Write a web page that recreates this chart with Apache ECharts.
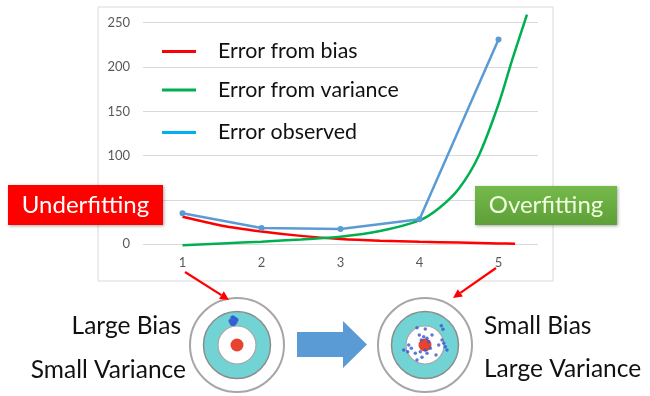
<!DOCTYPE html>
<html><head><meta charset="utf-8">
<script src="https://cdn.jsdelivr.net/npm/echarts@6/dist/echarts.min.js"></script>
<style>html,body{margin:0;padding:0;background:#fff}#c{width:650px;height:396px}</style>
</head><body><div id="c"></div>
<script>
// ---- data ----
const categories = ['1', '2', '3', '4', '5'];
const yTicks = [0, 50, 100, 150, 200, 250];
const observed = [35, 18.4, 17.3, 28.2, 231];
const biasCurve = [[1, 31], [1.5, 21], [2, 14.5], [2.5, 9.5], [3, 6], [3.5, 4], [4, 2.8], [4.5, 2], [5, 1], [5.21, 0.5]];
const varianceCurve = [[1, -1], [1.5, 1], [2, 3], [2.5, 5.5], [3, 8.6], [3.5, 15], [4, 27], [4.25, 41], [4.5, 63], [4.75, 100], [5, 158], [5.18, 210], [5.36, 259]];
const legendNames = ['Error from bias', 'Error from variance', 'Error observed'];
const leftHits = [[-3.5, 24.5], [-6, 25], [-1, 26], [-4, 28], [-2, 22], [-6, 22], [-1, 23], [-5, 27.5], [-3, 20.5], [0, 25], [-7, 24], [-4, 23], [-2.5, 27], [-5, 20.5]];
const rightHits = [[-8, 17.3], [0.3, 16], [16.3, 19.3], [18, 15.7], [-5.7, 10], [-1.3, 8.3], [-3.7, 5], [2, 6.7], [3.7, 3.3], [5.3, -3.3], [0.3, -5], [-4.7, -6.7], [-9.7, -8.3], [-16.3, 0], [-21.3, -5], [-17.3, -6.7], [-13.7, -3.3], [-8, -15], [-3, -12.3], [2, -8.3], [11, -10], [18.7, 1.7], [20.3, -1.7], [22, -5], [17, 5], [7, 10], [13.7, 0]];
const textLeft = ['Large Bias', 'Small Variance'];
const textRight = ['Small Bias', 'Large Variance'];

const FONT = 'Lato';
const chart = echarts.init(document.getElementById('c'), null, {renderer: 'canvas'});

function target(cx, cy) {
  return [
    {type: 'circle', shape: {cx: cx, cy: cy, r: 47}, style: {fill: '#fff', stroke: '#A6A6A6', lineWidth: 2}, z: 1},
    {type: 'circle', shape: {cx: cx, cy: cy, r: 33.5}, style: {fill: '#72D3D5', stroke: '#8C8C8C', lineWidth: 1.5}, z: 1},
    {type: 'circle', shape: {cx: cx, cy: cy, r: 19}, style: {fill: '#fff', stroke: '#A6A6A6', lineWidth: 1.2}, z: 1},
    {type: 'circle', shape: {cx: cx, cy: cy, r: 6.5}, style: {fill: '#E8432F'}, z: 1}
  ];
}
function redArrow(x1, y1, x2, y2) {
  const a = Math.atan2(y2 - y1, x2 - x1), L = 9, W = 4.5;
  const bx = x2 - L * Math.cos(a), by = y2 - L * Math.sin(a);
  return [
    {type: 'line', shape: {x1: x1, y1: y1, x2: bx, y2: by}, style: {stroke: '#FF0000', lineWidth: 2.2}, z: 5},
    {type: 'polygon', shape: {points: [[x2, y2], [bx - W * Math.sin(a), by + W * Math.cos(a)], [bx + W * Math.sin(a), by - W * Math.cos(a)]]}, style: {fill: '#FF0000'}, z: 5}
  ];
}

const graphics = [
  {type: 'rect', shape: {x: 98, y: 7, width: 455, height: 274}, style: {fill: '#fff', stroke: '#D9D9D9', lineWidth: 1}, z: -10, silent: true},
  // Underfitting
  {type: 'rect', shape: {x: 8, y: 185, width: 155, height: 40}, style: {fill: '#FF0000', shadowBlur: 3, shadowColor: 'rgba(0,0,0,0.35)', shadowOffsetX: 1, shadowOffsetY: 1}, z: 20},
  {type: 'text', x: 85.5, y: 205, style: {text: 'Underfitting', fill: '#fff', font: '24px ' + FONT, textAlign: 'center', textVerticalAlign: 'middle'}, z: 21},
  // Overfitting
  {type: 'rect', shape: {x: 475, y: 186, width: 142, height: 39}, style: {fill: new echarts.graphic.LinearGradient(0, 0, 0, 1, [{offset: 0, color: '#75B94B'}, {offset: 1, color: '#5E9F38'}]), shadowBlur: 3, shadowColor: 'rgba(0,0,0,0.35)', shadowOffsetX: 1, shadowOffsetY: 1}, z: 20},
  {type: 'text', x: 546, y: 205.5, style: {text: 'Overfitting', fill: '#EEFFDD', font: '24px ' + FONT, textAlign: 'center', textVerticalAlign: 'middle'}, z: 21},
  // Blue block arrow
  {type: 'polygon', shape: {points: [[297, 332], [343, 332], [343, 321], [367, 344.5], [343, 368], [343, 357], [297, 357]]}, style: {fill: '#5B9BD5'}, z: 5},
  // texts
  {type: 'text', x: 181, y: 326, style: {text: textLeft[0], fill: '#111', font: '24.5px ' + FONT, textAlign: 'right', textVerticalAlign: 'middle'}},
  {type: 'text', x: 186, y: 370, style: {text: textLeft[1], fill: '#111', font: '24.5px ' + FONT, textAlign: 'right', textVerticalAlign: 'middle'}},
  {type: 'text', x: 484, y: 326, style: {text: textRight[0], fill: '#111', font: '24.5px ' + FONT, textAlign: 'left', textVerticalAlign: 'middle'}},
  {type: 'text', x: 484, y: 369, style: {text: textRight[1], fill: '#111', font: '24.5px ' + FONT, textAlign: 'left', textVerticalAlign: 'middle'}}
].concat(target(237, 345), target(425, 345), redArrow(185, 272, 229, 300), redArrow(496, 268, 453, 298));

const legendColors = ['#FF0000', '#00B050', '#00B0F0'];
const legendTops = [38.5, 77, 119.5];
const legends = legendNames.map(function (n, i) {
  return {
    orient: 'vertical', left: 162, top: legendTops[i], padding: 0,
    itemWidth: 34, itemHeight: 3,
    textStyle: {fontSize: 21.4, color: '#111', fontFamily: FONT, lineHeight: 26, padding: [0, 0, 0, 17]},
    data: [{name: n, icon: 'rect', itemStyle: {color: legendColors[i]}}]
  };
});

chart.setOption({
  animation: false,
  textStyle: {fontFamily: FONT},
  graphic: graphics,
  legend: legends,
  grid: [
    {left: 143, right: 112, top: 22.7, bottom: 151.7},
    {left: 187, top: 295, width: 100, height: 100},
    {left: 375, top: 295, width: 100, height: 100}
  ],
  xAxis: [
    {type: 'category', data: categories, gridIndex: 0, boundaryGap: true,
     axisLine: {show: false}, axisTick: {show: false},
     axisLabel: {color: '#595959', fontSize: 13, margin: 12}},
    {type: 'value', gridIndex: 0, min: 0.5, max: 5.5, show: false},
    {type: 'value', gridIndex: 1, min: -50, max: 50, show: false},
    {type: 'value', gridIndex: 2, min: -50, max: 50, show: false}
  ],
  yAxis: [
    {type: 'value', gridIndex: 0, min: yTicks[0], max: yTicks[yTicks.length - 1], interval: 50,
     axisLine: {show: false}, axisTick: {show: false},
     axisLabel: {color: '#595959', fontSize: 13, margin: 13},
     splitLine: {lineStyle: {color: '#D9D9D9', width: 1}}},
    {type: 'value', gridIndex: 1, min: -50, max: 50, show: false},
    {type: 'value', gridIndex: 2, min: -50, max: 50, show: false}
  ],
  series: [
    {name: legendNames[0], type: 'line', xAxisIndex: 1, yAxisIndex: 0, data: biasCurve, smooth: 0.3,
     showSymbol: false, clip: false, lineStyle: {color: '#FF0000', width: 2.5}, itemStyle: {color: '#FF0000'}},
    {name: legendNames[1], type: 'line', xAxisIndex: 1, yAxisIndex: 0, data: varianceCurve, smooth: 0.3,
     showSymbol: false, clip: false, lineStyle: {color: '#00B050', width: 2.5}, itemStyle: {color: '#00B050'}},
    {name: legendNames[2], type: 'line', xAxisIndex: 0, yAxisIndex: 0, data: observed,
     symbol: 'circle', symbolSize: 6, clip: false, lineStyle: {color: '#5B9BD5', width: 2.5}, itemStyle: {color: '#5B9BD5'}},
    {type: 'scatter', xAxisIndex: 2, yAxisIndex: 1, data: leftHits, symbolSize: 3.5, itemStyle: {color: '#2F55D4'}, z: 10},
    {type: 'scatter', xAxisIndex: 3, yAxisIndex: 2, data: rightHits, symbolSize: 3.5, itemStyle: {color: '#3358D0'}, z: 10}
  ]
});
</script></body></html>
